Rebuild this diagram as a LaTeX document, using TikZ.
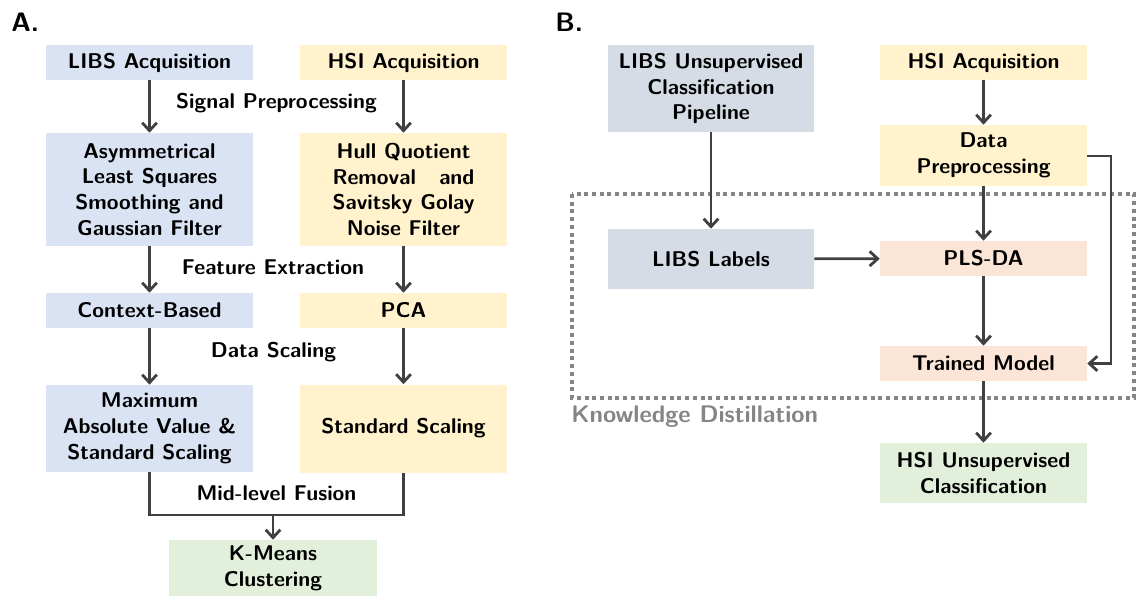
\documentclass[tikz,border=0pt]{standalone}
\usepackage{calc}
\usetikzlibrary{arrows.meta}
\definecolor{libsblue}{HTML}{DAE3F3}
\definecolor{hsiyellow}{HTML}{FFF2CC}
\definecolor{clustgreen}{HTML}{E2EFDA}
\definecolor{libsgray}{HTML}{D6DCE5}
\definecolor{modelpeach}{HTML}{FBE5D6}
\definecolor{linkgray}{HTML}{404040}
\definecolor{distgray}{HTML}{858585}
\begin{document}
\begin{tikzpicture}[x=0.75pt,y=-0.75pt,
  font=\sffamily\bfseries\fontsize{16}{19.3}\selectfont,
  box/.style={inner sep=0pt, align=center, minimum width=155.25pt},
  bluebox/.style={box, fill=libsblue},
  yellowbox/.style={box, fill=hsiyellow},
  greenbox/.style={box, fill=clustgreen},
  graybox/.style={box, fill=libsgray},
  peachbox/.style={box, fill=modelpeach},
  link/.style={draw=linkgray, line width=2.1pt, -{Straight Barb[length=6pt,width=11pt,line width=2.1pt]}},
  plainlink/.style={draw=linkgray, line width=2.1pt},
  steplabel/.style={inner sep=0pt, align=center},
  panel/.style={inner sep=0pt, anchor=west, font=\sffamily\bfseries\fontsize{20}{24}\selectfont}]
\useasboundingbox (0,0) rectangle (1138,597);

% ---------------- Panel A: mid-level fusion pipeline ----------------
\node[panel] (labA) at (11,22) {A.};

\node[bluebox, minimum height=26.25pt] (libsacq) at (149.5,62.5) {LIBS Acquisition};
\node[yellowbox, minimum height=26.25pt] (hsiacq) at (403.5,62.5) {HSI Acquisition};

\node[bluebox, minimum height=84.75pt] (als) at (149.5,189.5)
  {Asymmetrical\\Least Squares\\Smoothing and\\Gaussian Filter};
\node[yellowbox, minimum height=84.75pt] (hull) at (403.5,189.5)
  {Hull Quotient\\\makebox[\widthof{Savitsky Golay}]{Removal\hfill and}\\Savitsky Golay\\Noise Filter};

\node[bluebox, minimum height=26.25pt] (context) at (149.5,310.5) {Context-Based};
\node[yellowbox, minimum height=26.25pt] (pca) at (403.5,310.5) {PCA};

\node[bluebox, minimum height=65.25pt] (maxabs) at (149.5,428.5)
  {Maximum\\Absolute Value \&\\Standard Scaling};
\node[yellowbox, minimum height=66pt] (stdsc) at (403.5,428.5) {Standard Scaling};

\node[greenbox, minimum height=42pt, minimum width=156pt] (kmeans) at (273,568)
  {K-Means\\Clustering};

\node[steplabel] (lsig) at (276.5,103) {Signal Preprocessing};
\node[steplabel] (lfeat) at (273,267) {Feature Extraction};
\node[steplabel] (lscale) at (273.5,352) {Data Scaling};
\node[steplabel] (lfuse) at (276.5,493) {Mid-level Fusion};

\draw[link] (libsacq) -- (als);
\draw[link] (hsiacq) -- (hull);
\draw[link] (als) -- (context);
\draw[link] (hull) -- (pca);
\draw[link] (context) -- (maxabs);
\draw[link] (pca) -- (stdsc);

\coordinate (fuse) at (273,515);
\draw[plainlink, line join=miter] (maxabs.south) |- (fuse) -| (stdsc.south);
\draw[link] (fuse) -- (kmeans);

% ---------------- Panel B: knowledge distillation ----------------
\node[panel] (labB) at (555,22) {B.};

\node[graybox, minimum height=65.25pt, minimum width=154.5pt] (libsunsup) at (711,88.5)
  {LIBS Unsupervised\\Classification\\Pipeline};
\node[yellowbox, minimum height=26.25pt] (hsiacqB) at (983.5,62.5) {HSI Acquisition};
\node[yellowbox, minimum height=45.75pt] (dataprep) at (983.5,155.5) {Data\\Preprocessing};

\node[graybox, minimum height=45pt, minimum width=154.5pt] (libslab) at (711,259) {LIBS Labels};
\node[peachbox, minimum height=26.25pt] (plsda) at (983.5,258.5) {PLS-DA};
\node[peachbox, minimum height=26.25pt] (trained) at (983.5,363.5) {Trained Model};
\node[greenbox, minimum height=45pt] (hsiunsup) at (983.5,473)
  {HSI Unsupervised\\Classification};

\coordinate (kdnw) at (572,194);
\coordinate (kdse) at (1134,398);
\draw[distgray, line width=3pt, dash pattern=on 3pt off 2.8pt] (kdnw) rectangle (kdse);
\node[inner sep=0pt, anchor=west, text=distgray, font=\sffamily\bfseries\fontsize{18}{21}\selectfont]
  (kdlabel) at (571,417) {Knowledge Distillation};

\draw[link] (libsunsup) -- (libslab);
\draw[link] (hsiacqB) -- (dataprep);
\draw[link] (dataprep) -- (plsda);
\draw[link] (libslab) -- (plsda);
\draw[link] (plsda) -- (trained);
\draw[link] (trained) -- (hsiunsup);

\coordinate (bendtop) at (1111,156);
\coordinate (bendbot) at (1111,363.5);
\draw[link, line join=miter] (dataprep.east |- bendtop) -- (bendtop) -- (bendbot) -- (trained.east);
\end{tikzpicture}
\end{document}
